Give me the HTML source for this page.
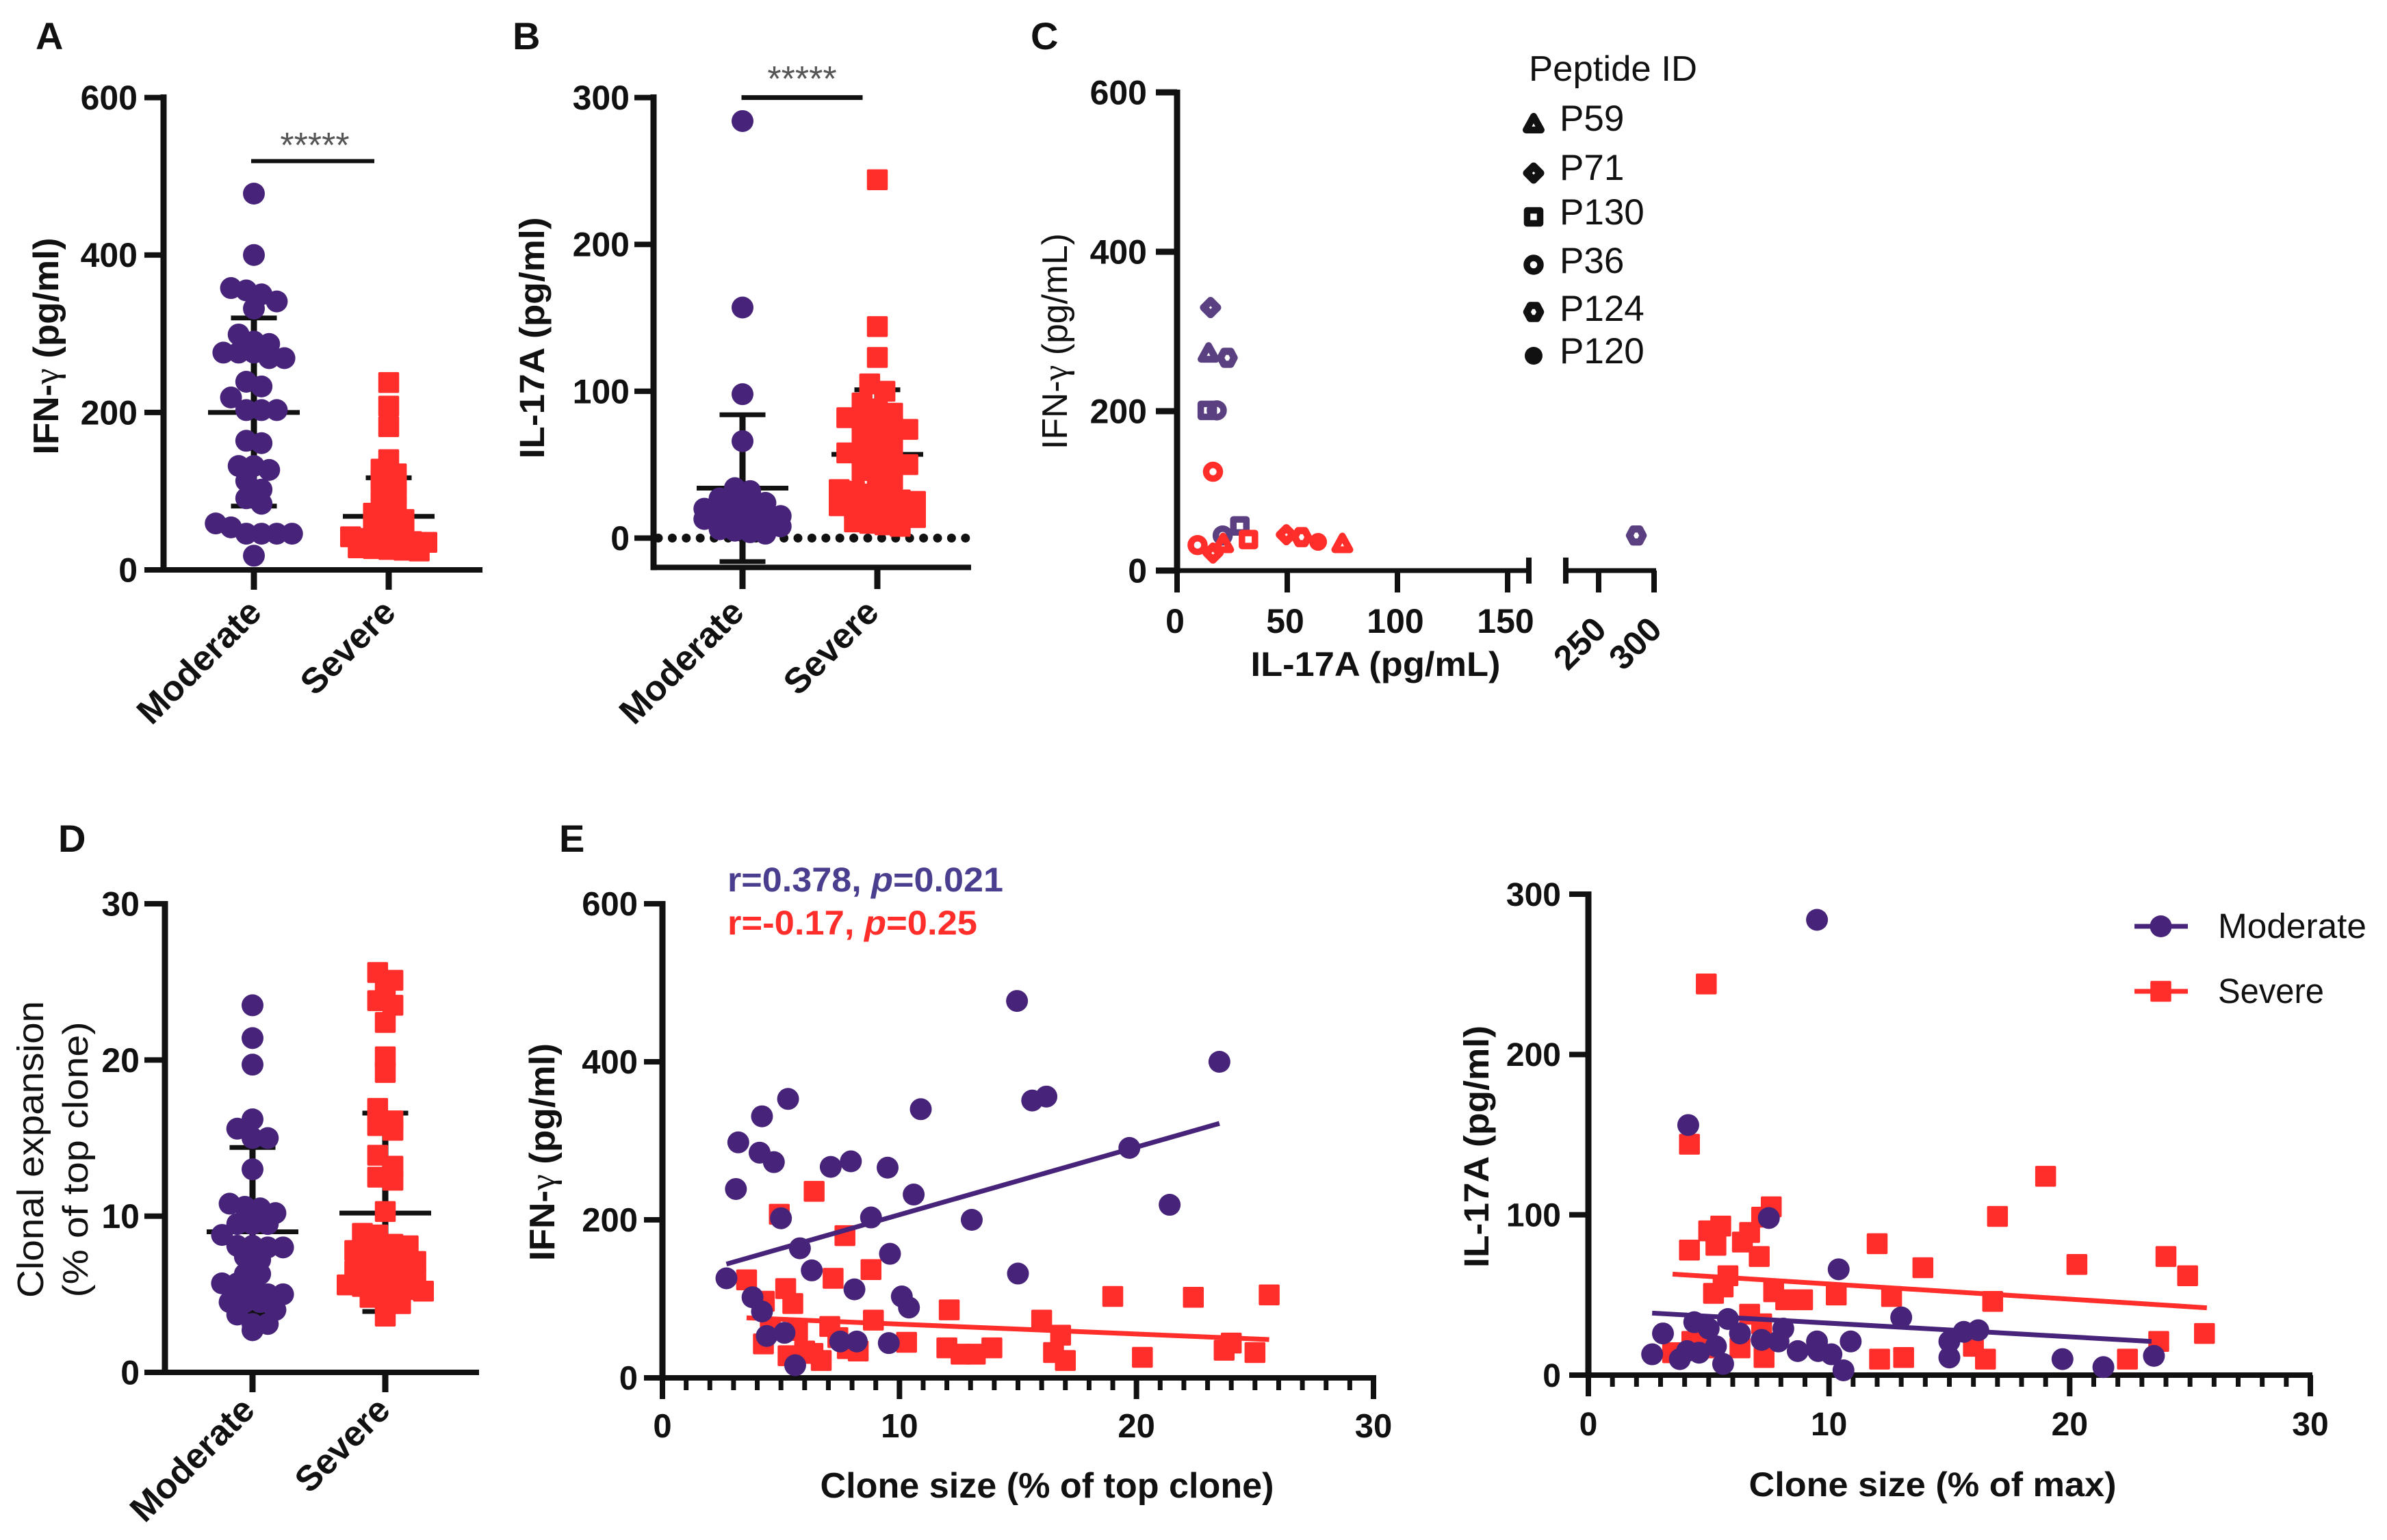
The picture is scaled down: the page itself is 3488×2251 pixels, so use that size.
<!DOCTYPE html>
<html lang="en">
<head>
<meta charset="utf-8">
<title>Cytokine and clonal expansion panels</title>
<style>
html,body{margin:0;padding:0;background:#fff;}
svg{display:block;}
text{font-family:"Liberation Sans",sans-serif;fill:#111;}
.b{font-weight:700;}
.sym{font-family:"Liberation Serif",serif;font-weight:400;}
</style>
</head>
<body>
<svg id="figure" xmlns="http://www.w3.org/2000/svg" width="3488" height="2251" viewBox="0 0 3488 2251">
<rect width="3488" height="2251" fill="#fff"/>

<g id="panel-a">
  <text class="b" x="52" y="72" font-size="56">A</text>
  <text class="b" x="85" y="506" font-size="52" text-anchor="middle" textLength="317" lengthAdjust="spacingAndGlyphs" transform="rotate(-90 85 506)">IFN-<tspan class="sym">γ</tspan> (pg/ml)</text>
  <text x="460" y="230" font-size="52" text-anchor="middle" style="fill:#555">*****</text>
</g>

<g id="panel-b">
  <text class="b" x="749" y="72" font-size="56">B</text>
  <text class="b" x="795" y="494" font-size="51" text-anchor="middle" textLength="353" lengthAdjust="spacingAndGlyphs" transform="rotate(-90 795 494)">IL-17A (pg/ml)</text>
  <text x="1172" y="133" font-size="52" text-anchor="middle" style="fill:#555">*****</text>
</g>

<g id="panel-c">
  <text class="b" x="1506" y="72" font-size="56">C</text>
  <text x="1559" y="499" font-size="52" text-anchor="middle" textLength="316" lengthAdjust="spacingAndGlyphs" transform="rotate(-90 1559 499)">IFN-<tspan class="sym">γ</tspan> (pg/mL)</text>
  <text class="b" x="2010" y="988" font-size="50" text-anchor="middle" textLength="365" lengthAdjust="spacingAndGlyphs">IL-17A (pg/mL)</text>
  <text x="2234" y="118" font-size="52" textLength="246" lengthAdjust="spacingAndGlyphs">Peptide ID</text>
</g>

<g id="panel-d">
  <text class="b" x="85" y="1245" font-size="56">D</text>
  <text x="63" y="1680" font-size="54" text-anchor="middle" textLength="434" lengthAdjust="spacingAndGlyphs" transform="rotate(-90 63 1680)">Clonal expansion</text>
  <text x="128" y="1695" font-size="52" text-anchor="middle" textLength="403" lengthAdjust="spacingAndGlyphs" transform="rotate(-90 128 1695)">(% of top  clone)</text>
</g>

<g id="panel-e">
  <text class="b" x="817" y="1245" font-size="56">E</text>
  <text class="b" x="810" y="1684" font-size="52" text-anchor="middle" textLength="318" lengthAdjust="spacingAndGlyphs" transform="rotate(-90 810 1684)">IFN-<tspan class="sym">γ</tspan> (pg/ml)</text>
  <text class="b" x="1530" y="2189" font-size="52" text-anchor="middle" textLength="663" lengthAdjust="spacingAndGlyphs">Clone size (% of top clone)</text>
  <text class="b" x="1063" y="1303" font-size="50" textLength="403" lengthAdjust="spacingAndGlyphs" style="fill:#4a3f8f">r=0.378, <tspan font-style="italic" style="fill:#4a3f8f">p</tspan>=0.021</text>
  <text class="b" x="1063" y="1366" font-size="50" textLength="365" lengthAdjust="spacingAndGlyphs" style="fill:#ff2e2a">r=-0.17, <tspan font-style="italic" style="fill:#ff2e2a">p</tspan>=0.25</text>
</g>

<g id="panel-f">
  <text class="b" x="2175" y="1676" font-size="51" text-anchor="middle" textLength="354" lengthAdjust="spacingAndGlyphs" transform="rotate(-90 2175 1676)">IL-17A (pg/ml)</text>
  <text class="b" x="2824" y="2187" font-size="50" text-anchor="middle" textLength="537" lengthAdjust="spacingAndGlyphs">Clone size (% of max)</text>
  <text x="3241" y="1371" font-size="51" textLength="217" lengthAdjust="spacingAndGlyphs">Moderate</text>
  <text x="3241" y="1466" font-size="51" textLength="155" lengthAdjust="spacingAndGlyphs">Severe</text>
</g>
</svg>

<script>
// ---------- Data ----------
const groupLabels = ['Moderate', 'Severe'];

const aTicks = [0, 200, 400, 600];
const aModerate = [478, 400, 358, 355, 350, 341, 332, 299, 290, 287, 276, 276, 276, 269, 269, 239, 233, 219, 203, 203, 203, 164, 161, 132, 132, 127, 113, 102, 91, 84, 59, 54, 46, 46, 46, 46, 18];
const aSevere = [238, 208, 182, 140, 128, 122, 115, 108, 100, 96, 85, 80, 72, 68, 64, 58, 55, 50, 42, 40, 38, 37, 36, 35, 28, 27, 26, 25, 24];
const aMeans = [200, 68];
const aUpper = [320, 117];
const aLower = [81, 18];

const bTicks = [0, 100, 200, 300];
const bModerate = [284, 157, 98, 66, 34, 32, 27, 26, 25, 24, 20, 19, 18, 17, 16, 15, 13, 12, 11, 10, 9, 8, 6, 5, 4, 3];
const bSevere = [244, 144, 123, 105, 100, 92, 88, 85, 82, 80, 78, 76, 74, 70, 68, 65, 58, 56, 54, 52, 50, 46, 42, 40, 33, 32, 30, 28, 26, 25, 22, 20, 18, 16, 15, 14, 11, 10, 9, 8];
const bMeans = [34, 57];
const bUpper = [84, 101];
const bLower = [-16, 13];

const cTicksY = [0, 200, 400, 600];
const cTicksXLow = [0, 50, 100, 150];
const cTicksXHigh = [250, 300];
const cPeptides = ['P59', 'P71', 'P130', 'P36', 'P124', 'P120'];
const cModeratePeptide = ['P71', 'P59', 'P124', 'P130', 'P36', 'P36', 'P130', 'P124'];
const cModerateIL17 = [15.2, 14.3, 22.8, 13.7, 18, 20.7, 28.5, 284];
const cModerateIFN = [330, 272, 267, 201, 201, 44, 56, 44];
const cSeverePeptide = ['P36', 'P36', 'P71', 'P59', 'P130', 'P71', 'P124', 'P120', 'P59'];
const cSevereIL17 = [16.3, 9.3, 16.3, 20.9, 32.4, 49.6, 56.5, 64, 75];
const cSevereIFN = [124, 32, 22, 33, 39, 45, 42, 36, 33];

const dTicks = [0, 10, 20, 30];
const dModerate = [23.5, 21.4, 19.7, 16.2, 15.6, 15, 15, 13, 10.8, 10.6, 10.5, 10.2, 9.5, 9.5, 9.5, 8.8, 8.1, 8.1, 8, 8, 7.4, 7.2, 6.3, 6.3, 5.7, 5.7, 5.7, 5, 5, 4.5, 4.5, 4.5, 4, 3.7, 3.1, 3.1, 2.7];
const dSevere = [25.6, 25.1, 24.6, 23.8, 23.5, 22.4, 20.2, 19.2, 16.9, 16.1, 15.8, 15.5, 13.9, 13.2, 12.5, 12.3, 10.3, 8.9, 8.8, 8.2, 8.1, 7.8, 7.6, 7.5, 7.3, 7.1, 6.5, 6.3, 6.2, 6.1, 6, 5.6, 5.5, 5.5, 5.4, 5.3, 5.2, 4.8, 4.5, 4.4, 3.6];
const dMeans = [9, 10.2];
const dUpper = [14.4, 16.6];
const dLower = [3.7, 3.9];

const eTicksX = [0, 10, 20, 30];
const eTicksY = [0, 200, 400, 600];
const eModerateClone = [14.96, 23.5, 5.3, 15.6, 16.2, 10.9, 4.2, 3.2, 4.1, 4.7, 7.1, 7.95, 9.5, 19.7, 3.1, 10.6, 5, 8.8, 13.05, 21.4, 5.8, 9.6, 6.3, 15, 2.7, 8.1, 3.8, 10.1, 10.4, 4.2, 4.4, 5.15, 7.5, 8.2, 9.55, 5.6];
const eModerateIFN = [477, 400, 353, 351, 356, 340, 331, 298, 285, 273, 267, 274, 266, 291, 239, 232, 202, 203, 200, 219, 164, 157, 136, 132, 126, 112, 102, 103, 89, 84, 53, 57, 46, 46, 44, 16];
const eSevereClone = [6.4, 4.93, 7.7, 8.8, 7.2, 3.55, 5.2, 4.3, 5.5, 19, 22.4, 25.6, 12.1, 8.9, 16, 4.55, 5.7, 7.06, 16.8, 7.4, 4.26, 10.3, 12, 13.9, 24, 23.7, 25, 16.5, 17, 20.25, 12.6, 13.2, 5.3, 6, 6.7, 6.35, 8.26, 7.8];
const eSevereIFN = [236, 207, 180, 137, 126, 124, 113, 97, 94, 103, 102, 105, 86, 73, 73, 63, 60, 65, 54, 51, 43, 45, 38, 38, 44, 35, 32, 32, 22, 26, 30, 30, 28, 34, 22, 31, 34, 37];
const eModerateTrendX = [2.7, 23.5];
const eModerateTrendY = [144, 322];
const eSevereTrendX = [3.55, 25.6];
const eSevereTrendY = [76, 48.5];

const fTicksX = [0, 10, 20, 30];
const fTicksY = [0, 100, 200, 300];
const fModerateClone = [9.5, 4.15, 7.5, 10.4, 13, 5.8, 4.4, 2.65, 3.1, 3.8, 4.1, 4.6, 5, 5.3, 5.6, 6.3, 7.2, 7.9, 8.1, 8.7, 9.5, 9.55, 10.1, 10.6, 10.9, 15, 15, 15.6, 16.2, 19.7, 21.4, 23.5];
const fModerateIL17 = [284, 156, 98, 66, 36, 35, 33, 13, 26, 10, 15, 14, 29, 18, 7, 26, 22, 21, 29, 15, 21, 15, 13, 3, 21, 21, 11, 27, 28, 10, 5, 12];
const fSevereClone = [4.9, 4.2, 19, 7.6, 7.2, 17, 5.5, 5, 6.7, 4.2, 5.3, 6.4, 12, 7.1, 24, 13.9, 20.3, 24.9, 5.8, 5.6, 5.2, 7.7, 8.2, 8.9, 10.3, 12.6, 16.8, 6.7, 7.2, 6.3, 4.3, 3.5, 4.8, 7.3, 16, 12.1, 13.1, 16.5, 22.4, 23.7, 25.6];
const fSevereIL17 = [244, 144, 124, 105, 98.5, 99, 93, 90, 89, 78, 81, 83, 82, 74, 74, 67, 69, 62, 62, 55, 51, 52, 47, 47, 50, 49, 46, 38, 32, 17, 21, 14, 17, 11, 18, 10, 11, 10, 10, 21, 26];
const fModerateTrendX = [2.65, 23.4];
const fModerateTrendY = [38.7, 21];
const fSevereTrendX = [3.5, 25.7];
const fSevereTrendY = [63, 42];

// ---------- Helpers ----------
const NS = 'http://www.w3.org/2000/svg';
const PURPLE = '#47247a';
const RED = '#ff2e2a';
const INK = '#111';

function mark(parent, tag, attrs, name) {
  const el = document.createElementNS(NS, tag);
  for (const k in attrs) el.setAttribute(k, attrs[k]);
  
  
  parent.appendChild(el);
  return el;
}
function linear(d0, d1, r0, r1) {
  return function (v) { return r0 + (v - d0) * (r1 - r0) / (d1 - d0); };
}
function line(p, x1, y1, x2, y2, w, name, color) {
  return mark(p, 'line', { x1: x1, y1: y1, x2: x2, y2: y2, stroke: color || INK, 'stroke-width': w }, name);
}
function label(p, x, y, str, size, anchor, name, rotate) {
  const attrs = { x: x, y: y, 'font-size': size, 'font-weight': 700, 'text-anchor': anchor };
  if (rotate) attrs.transform = 'rotate(' + rotate + ' ' + x + ' ' + y + ')';
  const t = mark(p, 'text', attrs, name);
  t.textContent = str;
  return t;
}
function circle(p, x, y, color, name) {
  return mark(p, 'circle', { cx: x, cy: y, r: 16, fill: color }, name);
}
function square(p, x, y, color, name) {
  return mark(p, 'rect', { x: x - 15.25, y: y - 15.25, width: 30.5, height: 30.5, rx: 2, fill: color }, name);
}
function yAxis(p, scale, ticks, x, tickLeft, labelRight, size) {
  ticks.forEach(function (t) {
    line(p, tickLeft, scale(t), x, scale(t), 8, 'y-tick');
    label(p, labelRight, scale(t) + size * 0.35, String(t), size, 'end', 'y-tick-label');
  });
}
// Groups values in bins and centres each bin's points on the category, like a scatter dot plot.
function swarm(values, binSize, spacing) {
  const bins = {};
  values.forEach(function (v) {
    const key = Math.floor(v / binSize);
    (bins[key] = bins[key] || []).push(v);
  });
  const out = [];
  Object.keys(bins).forEach(function (key) {
    const items = bins[key];
    items.forEach(function (v, i) {
      out.push({ value: v, offset: (i - (items.length - 1) / 2) * spacing });
    });
  });
  return out;
}
function dotPlot(p, cx, scale, values, bin, spacing, mean, upper, lower, color, drawMark, prefix) {
  line(p, cx, scale(upper), cx, scale(lower), 9, prefix + '-error-stem');
  line(p, cx - 33.5, scale(upper), cx + 33.5, scale(upper), 7, prefix + '-sd-upper-cap');
  line(p, cx - 33.5, scale(lower), cx + 33.5, scale(lower), 7, prefix + '-sd-lower-cap');
  line(p, cx - 67, scale(mean), cx + 67, scale(mean), 7, prefix + '-mean');
  swarm(values, bin, spacing).forEach(function (d) {
    drawMark(p, cx + d.offset, scale(d.value), color, prefix + '-point');
  });
}
function categoryLabels(p, xs, axisY, tickBottom, ends, endY) {
  xs.forEach(function (x, i) {
    line(p, x, axisY, x, tickBottom, 9, 'x-tick');
    label(p, ends[i], endY, groupLabels[i], 52, 'end', 'category-label', -45);
  });
}
function xTicksMinor(p, scale, majors, axisY, minorBottom, majorBottom, labelY, size) {
  for (let v = majors[0]; v <= majors[majors.length - 1]; v++) {
    const major = majors.indexOf(v) >= 0;
    line(p, scale(v), axisY, scale(v), major ? majorBottom : minorBottom, major ? 8 : 7, major ? 'x-major-tick' : 'x-minor-tick');
  }
  majors.forEach(function (t) {
    label(p, scale(t), labelY, String(t), size, 'middle', 'x-tick-label');
  });
}
function scatter(p, xs, ys, sx, sy, color, drawMark, name) {
  xs.forEach(function (v, i) {
    drawMark(p, sx(v), sy(ys[i]), color, name);
  });
}
function trend(p, tx, ty, sx, sy, color, name) {
  line(p, sx(tx[0]), sy(ty[0]), sx(tx[1]), sy(ty[1]), 7, name, color);
}

// ---------- Panel A ----------
(function () {
  const p = document.getElementById('panel-a');
  const y = linear(0, 600, 833, 142.6);
  line(p, 239, 138, 239, 837, 9, 'y-axis-line');
  line(p, 211, 833, 705, 833, 8, 'x-axis-line');
  yAxis(p, y, aTicks, 239, 211, 201, 50);
  categoryLabels(p, [371, 568], 833, 862, [385, 581], 898);
  dotPlot(p, 371, y, aModerate, 20, 22.3, aMeans[0], aUpper[0], aLower[0], PURPLE, circle, 'moderate');
  dotPlot(p, 568, y, aSevere, 15, 22.3, aMeans[1], aUpper[1], aLower[1], RED, square, 'severe');
  line(p, 367, 235.5, 547, 235.5, 6, 'significance-bar');
})();

// ---------- Panel B ----------
(function () {
  const p = document.getElementById('panel-b');
  const y = linear(0, 300, 786.5, 142.6);
  const bottom = y(-20);
  line(p, 955, 138, 955, bottom + 4, 9, 'y-axis-line');
  line(p, 952, bottom, 1419, bottom, 8, 'x-axis-line');
  yAxis(p, y, bTicks, 955, 927, 920, 50);
  mark(p, 'line', { x1: 962, y1: y(0), x2: 1416, y2: y(0), stroke: INK, 'stroke-width': 13, 'stroke-linecap': 'round', 'stroke-dasharray': '0 20.4' }, 'zero-reference-line');
  categoryLabels(p, [1085, 1282], bottom, 861, [1090, 1287], 898);
  dotPlot(p, 1085, y, bModerate, 7, 22.3, bMeans[0], bUpper[0], bLower[0], PURPLE, circle, 'moderate');
  dotPlot(p, 1282, y, bSevere, 12, 22.3, bMeans[1], bUpper[1], bLower[1], RED, square, 'severe');
  line(p, 1083.5, 142.6, 1260.5, 142.6, 7, 'significance-bar');
})();

// ---------- Panel C ----------
function peptideMark(p, type, x, y, color, name) {
  const s = { fill: 'none', stroke: color, 'stroke-width': 9.5, 'stroke-linejoin': 'round' };
  const poly = function (pts, w) {
    const a = Object.assign({}, s, { points: pts.map(function (q) { return (x + q[0]) + ',' + (y + q[1]); }).join(' '), 'stroke-width': w });
    return mark(p, 'polygon', a, name);
  };
  if (type === 'P59') return poly([[0, -12], [11, 8], [-11, 8]], 10);
  if (type === 'P71') return poly([[0, -10], [10, 0], [0, 10], [-10, 0]], 11);
  if (type === 'P130') return mark(p, 'rect', Object.assign({}, s, { x: x - 9.5, y: y - 9.5, width: 19, height: 19 }), name);
  if (type === 'P36') return mark(p, 'circle', Object.assign({}, s, { cx: x, cy: y, r: 10 }), name);
  if (type === 'P124') return poly([[-5, -9.5], [5, -9.5], [10, 0], [5, 9.5], [-5, 9.5], [-10, 0]], 10.5);
  return mark(p, 'circle', { cx: x, cy: y, r: 13, fill: color }, name);
}
(function () {
  const p = document.getElementById('panel-c');
  const y = linear(0, 600, 834, 135);
  const low = linear(0, 150, 1720, 2203);
  const high = linear(250, 300, 2336, 2417);
  const x = function (v) { return v <= 160 ? low(v) : high(v); };
  line(p, 1720, 131, 1720, 838, 9, 'y-axis-line');
  line(p, 1689, 834, 2234, 834, 7, 'x-axis-line-low');
  line(p, 2288, 834, 2420, 834, 7, 'x-axis-line-high');
  line(p, 2234, 815, 2234, 853, 8, 'axis-break-left');
  line(p, 2288, 815, 2288, 853, 8, 'axis-break-right');
  cTicksY.forEach(function (t) {
    line(p, 1689, y(t), 1720, y(t), 9, 'y-tick');
    label(p, 1676, y(t) + 17.5, String(t), 50, 'end', 'y-tick-label');
  });
  cTicksXLow.forEach(function (t) {
    line(p, x(t), 834, x(t), 866, 8, 'x-tick');
    label(p, x(t) - 3, 925, String(t), 50, 'middle', 'x-tick-label');
  });
  cTicksXHigh.forEach(function (t) {
    line(p, x(t), 834, x(t), 866, 8, 'x-tick');
    label(p, x(t) + 14, 923, String(t), 50, 'end', 'x-tick-label', -45);
  });
  cModerateIL17.forEach(function (v, i) {
    peptideMark(p, cModeratePeptide[i], x(v), y(cModerateIFN[i]), '#5a4080', 'moderate-peptide-point');
  });
  cSevereIL17.forEach(function (v, i) {
    peptideMark(p, cSeverePeptide[i], x(v), y(cSevereIFN[i]), RED, 'severe-peptide-point');
  });
  const rowMarker = { P59: 182, P71: 253, P130: 317, P36: 387, P124: 456, P120: 520 };
  const rowText = { P59: 191, P71: 263, P130: 328, P36: 399, P124: 469, P120: 531 };
  cPeptides.forEach(function (name) {
    peptideMark(p, name, 2241, rowMarker[name], INK, 'legend-marker');
    const t = mark(p, 'text', { x: 2279, y: rowText[name], 'font-size': 53 }, 'legend-entry');
    t.textContent = name;
  });
})();

// ---------- Panel D ----------
(function () {
  const p = document.getElementById('panel-d');
  const y = linear(0, 30, 2006, 1321);
  line(p, 241, 1317, 241, 2010, 9, 'y-axis-line');
  line(p, 211, 2006, 700, 2006, 8, 'x-axis-line');
  yAxis(p, y, dTicks, 241, 211, 204, 50);
  categoryLabels(p, [369, 563], 2006, 2035, [375, 573], 2064);
  dotPlot(p, 369, y, dModerate, 1, 22.3, dMeans[0], dUpper[0], dLower[0], PURPLE, circle, 'moderate');
  dotPlot(p, 563, y, dSevere, 1, 22.3, dMeans[1], dUpper[1], dLower[1], RED, square, 'severe');
})();

// ---------- Panel E (IFN) ----------
(function () {
  const p = document.getElementById('panel-e');
  const x = linear(0, 30, 968, 2007);
  const y = linear(0, 600, 2014, 1321);
  xTicksMinor(p, x, eTicksX, 2014, 2032, 2045, 2101, 49);
  line(p, 968, 1317, 968, 2018, 9, 'y-axis-line');
  line(p, 941, 2014, 2011, 2014, 8, 'x-axis-line');
  yAxis(p, y, eTicksY, 968, 941, 932, 49);
  scatter(p, eSevereClone, eSevereIFN, x, y, RED, square, 'severe-point');
  trend(p, eSevereTrendX, eSevereTrendY, x, y, RED, 'severe-trend-line');
  scatter(p, eModerateClone, eModerateIFN, x, y, PURPLE, circle, 'moderate-point');
  trend(p, eModerateTrendX, eModerateTrendY, x, y, PURPLE, 'moderate-trend-line');
})();

// ---------- Panel E (IL-17A) ----------
(function () {
  const p = document.getElementById('panel-f');
  const x = linear(0, 30, 2321, 3376);
  const y = linear(0, 300, 2010, 1307);
  xTicksMinor(p, x, fTicksX, 2010, 2027, 2041, 2098, 48);
  line(p, 2321, 1303, 2321, 2014, 9, 'y-axis-line');
  line(p, 2293, 2010, 3379, 2010, 8, 'x-axis-line');
  yAxis(p, y, fTicksY, 2321, 2293, 2281, 48);
  scatter(p, fSevereClone, fSevereIL17, x, y, RED, square, 'severe-point');
  trend(p, fSevereTrendX, fSevereTrendY, x, y, RED, 'severe-trend-line');
  scatter(p, fModerateClone, fModerateIL17, x, y, PURPLE, circle, 'moderate-point');
  trend(p, fModerateTrendX, fModerateTrendY, x, y, PURPLE, 'moderate-trend-line');
  line(p, 3119, 1354, 3197, 1354, 7, 'legend-line-moderate', PURPLE);
  circle(p, 3157.5, 1354, PURPLE, 'legend-marker-moderate');
  line(p, 3119, 1449, 3197, 1449, 7, 'legend-line-severe', RED);
  square(p, 3157.5, 1449, RED, 'legend-marker-severe');
})();
</script>
</body>
</html>
